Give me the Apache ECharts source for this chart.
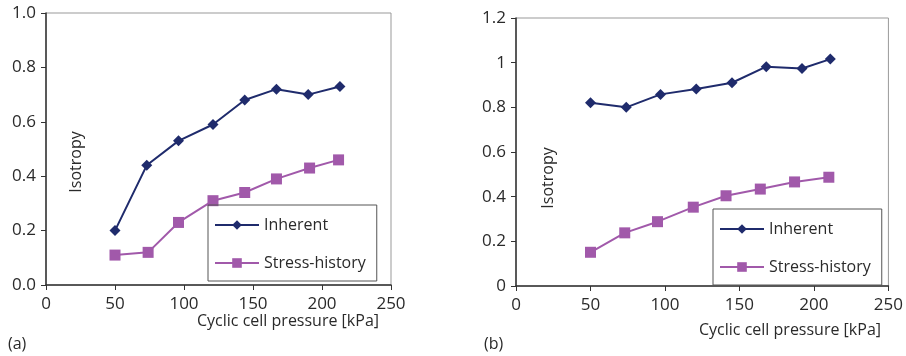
<!DOCTYPE html>
<html>
<head>
<meta charset="utf-8">
<script src="https://cdn.jsdelivr.net/npm/echarts@6/dist/echarts.min.js"></script>
<style>
  html, body { margin: 0; padding: 0; background: #fff; }
  #chart { width: 906px; height: 356px; }
</style>
</head>
<body>
<div id="chart"></div>
<script>
// panel (a)
var xInhA = [50, 73, 96, 121, 144, 167, 190, 213];
var yInhA = [0.2, 0.44, 0.53, 0.59, 0.68, 0.72, 0.70, 0.73];
var xStrA = [50, 74, 96, 121, 144, 167, 191, 212];
var yStrA = [0.11, 0.12, 0.23, 0.31, 0.34, 0.39, 0.43, 0.46];

// panel (b)
var xInhB = [50, 74, 97, 121, 145, 168, 192, 211];
var yInhB = [0.82, 0.80, 0.858, 0.882, 0.91, 0.982, 0.974, 1.016];
var xStrB = [50, 73, 95, 119, 141, 164, 187, 210];
var yStrB = [0.151, 0.238, 0.288, 0.353, 0.404, 0.434, 0.466, 0.487];

var navy = "#1f2b6c";
var mauve = "#a159aa";
var font = "Open Sans";

function pairs(xs, ys) {
  return xs.map(function (x, i) { return [x, ys[i]]; });
}

var chartDom = document.getElementById("chart");
var myChart = echarts.init(chartDom);

function xAx(idx) {
  return {
    type: "value", gridIndex: idx, min: 0, max: 250, interval: 50,
    splitLine: { show: false },
    axisLine: { lineStyle: { color: "#333", width: 1.5 } },
    axisTick: { length: 5, lineStyle: { color: "#333" } },
    axisLabel: { color: "#2a2a2a", fontSize: 17, fontFamily: font, margin: 11 },
  };
}
function yAx(idx, max, fmt) {
  return {
    type: "value", gridIndex: idx, min: 0, max: max, interval: 0.2,
    splitLine: { show: false },
    axisLine: { show: true, lineStyle: { color: "#333", width: 1.5 } },
    axisTick: { show: true, length: 5, lineStyle: { color: "#333" } },
    axisLabel: { color: "#2a2a2a", fontSize: 17, fontFamily: font, margin: 10, formatter: fmt },
  };
}
function line(name, data, idx, color, symbol, size) {
  return {
    name: name, type: "line", xAxisIndex: idx, yAxisIndex: idx,
    data: data, symbol: symbol, symbolSize: size,
    itemStyle: { color: color }, lineStyle: { color: color, width: 2 },
  };
}
function legend(left, top) {
  return {
    orient: "vertical", left: left, top: top,
    data: ["Inherent", "Stress-history"],
    itemWidth: 44, itemHeight: 12, itemGap: 22,
    padding: [12, 11, 10, 6],
    borderColor: "#555", borderWidth: 1,
    textStyle: { color: "#2a2a2a", fontSize: 16, fontFamily: font },
  };
}
function label(text, x, y, align, rot) {
  return {
    type: "text", x: x, y: y, rotation: rot || 0,
    style: { text: text, fill: "#2a2a2a", font: "16px 'Open Sans'", align: align, verticalAlign: "middle" },
  };
}

var option = {
  animation: false,
  grid: [
    { left: 46, top: 13, width: 345, height: 272, show: true, borderColor: "#999", borderWidth: 1 },
    { left: 516, top: 18, width: 377, height: 268, show: true, borderColor: "#999", borderWidth: 1 },
  ],
  xAxis: [xAx(0), xAx(1)],
  yAxis: [
    yAx(0, 1.0, function (v) { return v.toFixed(1); }),
    yAx(1, 1.2, function (v) { return String(+v.toFixed(1)); }),
  ],
  legend: [legend(208, 205), legend(713, 209)],
  series: [
    line("Inherent", pairs(xInhA, yInhA), 0, navy, "diamond", [11, 11]),
    line("Stress-history", pairs(xStrA, yStrA), 0, mauve, "rect", 11),
    line("Inherent", pairs(xInhB, yInhB), 1, navy, "diamond", [11, 11]),
    line("Stress-history", pairs(xStrB, yStrB), 1, mauve, "rect", 11),
  ],
  graphic: [
    label("Isotropy", 76, 162, "center", Math.PI / 2),
    label("Isotropy", 548, 178, "center", Math.PI / 2),
    label("Cyclic cell pressure [kPa]", 379, 321, "right"),
    label("Cyclic cell pressure [kPa]", 881, 330, "right"),
    label("(a)", 8, 344, "left"),
    label("(b)", 484, 344, "left"),
  ],
};
myChart.setOption(option);
</script>
</body>
</html>
